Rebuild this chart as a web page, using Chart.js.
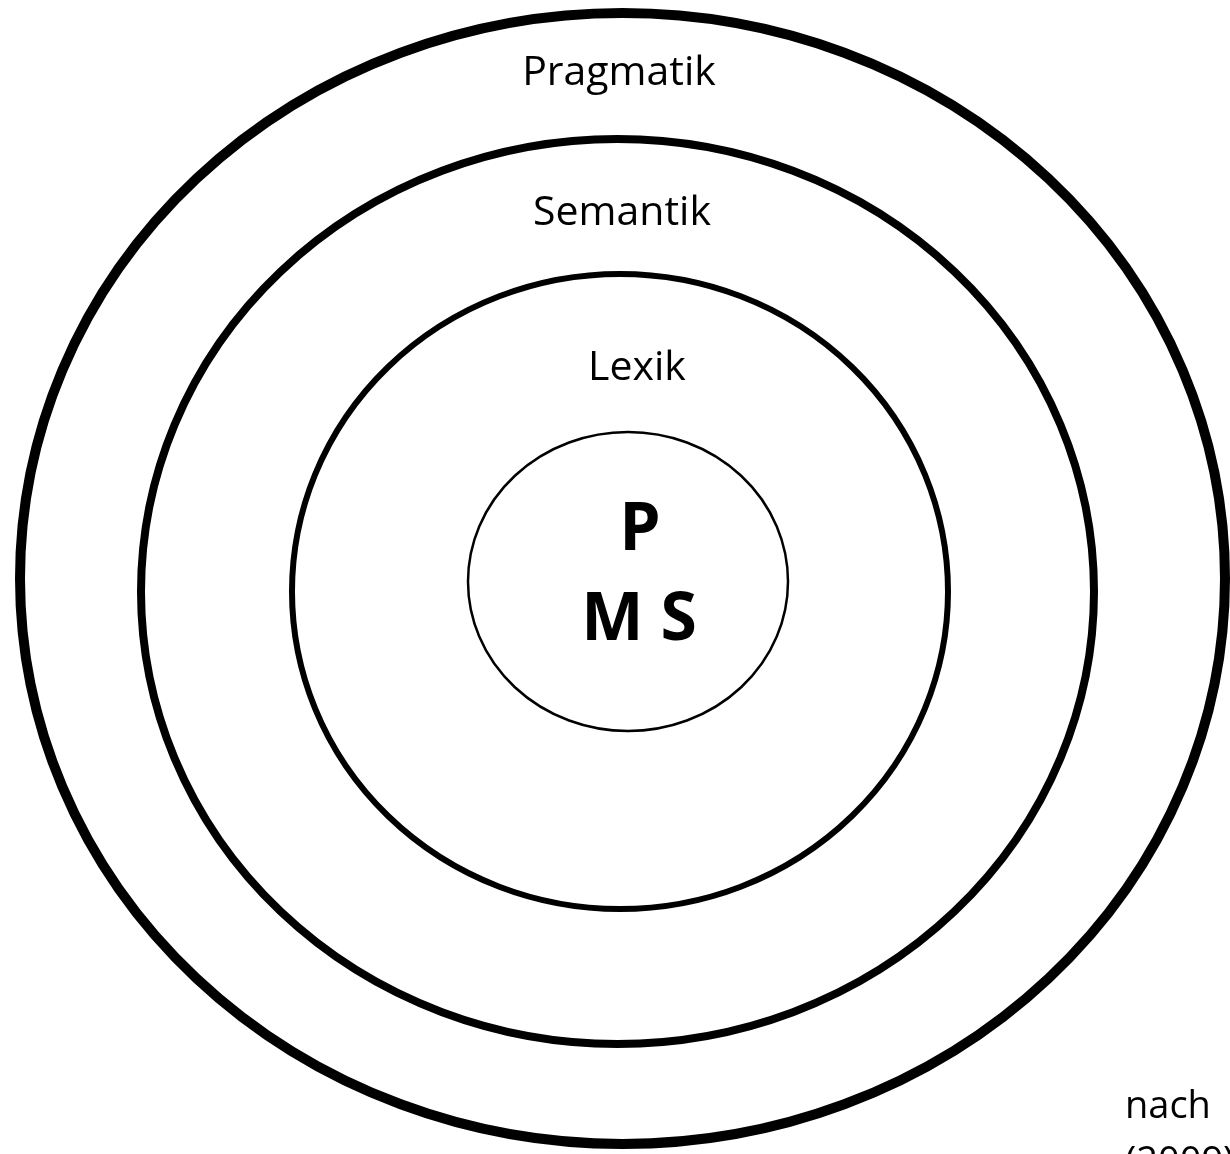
<!DOCTYPE html>
<html>
<head>
<meta charset="utf-8">
<script src="https://cdn.jsdelivr.net/npm/chart.js@4.4.1/dist/chart.umd.min.js"></script>
<style>
  html, body { margin: 0; padding: 0; background: #fff; overflow: hidden; }
  #rings { display: block; }
</style>
</head>
<body>
<canvas id="rings" width="1230" height="1154"></canvas>
<script>
// ring geometry, in chart units (x: 0..1230, y: 0..1154 from the top)
const ringNames = ['Pragmatik', 'Semantik', 'Lexik', 'Kern'];
const ringCx = [622.5, 617.5, 620, 628];
const ringCy = [578.5, 591.5, 591.5, 581.5];
const ringRx = [602.5, 476.5, 328, 160];
const ringRy = [565.5, 452.5, 317.5, 149.5];

// labels and where they sit
const labelTexts = ['Pragmatik', 'Semantik', 'Lexik', 'P', 'M S'];
const labelX = [619, 622, 637, 640, 639];
const labelY = [85, 225, 380, 550, 640];

const noteLines = ['nach', '(2009)'];
const noteX = [1125, 1125];
const noteY = [1118, 1174];

const ringWidths = [10, 8, 6, 2.5];
const labelFonts = ['41px "Open Sans"', '41px "Open Sans"', '41px "Open Sans"',
                    'bold 66px "Open Sans"', 'bold 66px "Open Sans"'];

const ringPlugin = {
    id: 'ringPlugin',
    afterDatasetsDraw(chart) {
        const ctx = chart.ctx;
        const xs = chart.scales.x;
        const ys = chart.scales.y;
        ctx.save();
        ctx.strokeStyle = '#000';
        ringNames.forEach((name, i) => {
            const cx = xs.getPixelForValue(ringCx[i]);
            const cy = ys.getPixelForValue(ringCy[i]);
            const rx = Math.abs(xs.getPixelForValue(ringCx[i] + ringRx[i]) - cx);
            const ry = Math.abs(ys.getPixelForValue(ringCy[i] + ringRy[i]) - cy);
            ctx.lineWidth = ringWidths[i];
            ctx.beginPath();
            ctx.ellipse(cx, cy, rx, ry, 0, 0, Math.PI * 2);
            ctx.stroke();
        });

        ctx.fillStyle = '#000';
        ctx.textBaseline = 'alphabetic';
        ctx.textAlign = 'center';
        labelTexts.forEach((t, i) => {
            ctx.font = labelFonts[i];
            ctx.fillText(t, xs.getPixelForValue(labelX[i]), ys.getPixelForValue(labelY[i]));
        });

        ctx.textAlign = 'left';
        ctx.font = '38px "Open Sans"';
        noteLines.forEach((t, i) => {
            ctx.fillText(t, xs.getPixelForValue(noteX[i]), ys.getPixelForValue(noteY[i]));
        });
        ctx.restore();
    }
};

new Chart(document.getElementById('rings'), {
    type: 'scatter',
    data: {
        datasets: [{
            label: 'centres',
            data: ringNames.map((n, i) => ({ x: ringCx[i], y: ringCy[i] })),
            pointRadius: 0,
            showLine: false
        }]
    },
    options: {
        responsive: false,
        animation: false,
        devicePixelRatio: 1,
        layout: { padding: 0 },
        plugins: {
            legend: { display: false },
            tooltip: { enabled: false }
        },
        scales: {
            x: { type: 'linear', min: 0, max: 1230, display: false },
            y: { type: 'linear', min: 0, max: 1154, reverse: true, display: false }
        }
    },
    plugins: [ringPlugin]
});
</script>
</body>
</html>
